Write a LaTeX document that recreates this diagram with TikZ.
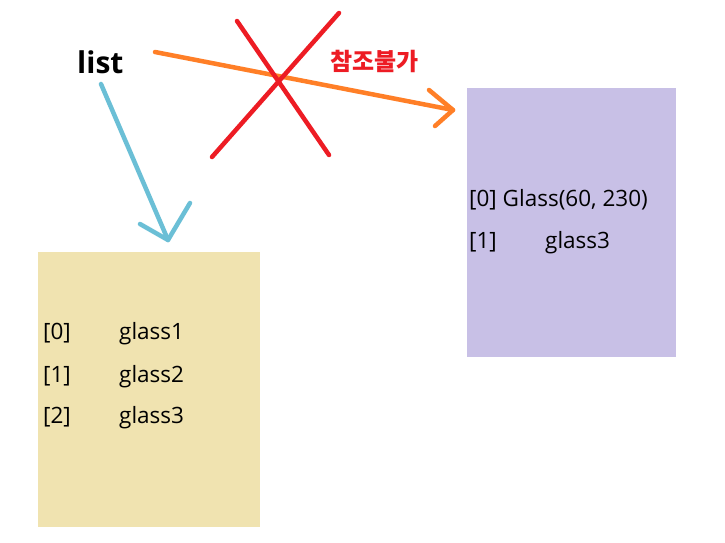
\documentclass[tikz,border=0pt]{standalone}
\usepackage{fontspec}
\setmainfont{Open Sans}
\newfontfamily\kr{Noto Sans CJK KR}
\definecolor{boxyellow}{HTML}{F0E3B0}
\definecolor{boxpurple}{HTML}{C8C0E6}
\definecolor{arrcyan}{HTML}{6BBFD6}
\definecolor{arrorange}{HTML}{FF7F27}
\definecolor{xred}{HTML}{ED1C24}
\begin{document}
\begin{tikzpicture}[x=1pt,y=-1pt,
  stroke/.style={line width=4.5pt,line cap=round,line join=round},
  cell/.style={anchor=base west,inner sep=0pt,font=\fontsize{22.5}{26}\selectfont},
  arrbox/.style={draw=none,inner sep=0pt,anchor=north west}]
\useasboundingbox (0,0) rectangle (725,542);
\fill[white] (0,0) rectangle (725,542);
% boxes
\node[arrbox,fill=boxyellow,minimum width=222pt,minimum height=275pt] (left) at (38,252) {};
\node[arrbox,fill=boxpurple,minimum width=209pt,minimum height=269pt] (right) at (467,88) {};
% label
\node[anchor=base west,inner sep=0pt,font=\fontsize{30}{34}\selectfont\bfseries] (list) at (77,73) {list};
\node[anchor=base west,inner sep=0pt,text=xred,font=\kr\bfseries\fontsize{24}{28}\selectfont] (nolabel) at (330,70) {참조불가};
% left box texts
\node[cell] (l0i) at (43,339) {[0]};
\node[cell] (l0v) at (119,339) {glass1};
\node[cell] (l1i) at (43,382) {[1]};
\node[cell] (l1v) at (119,382) {glass2};
\node[cell] (l2i) at (43,423) {[2]};
\node[cell] (l2v) at (119,423) {glass3};
% right box texts
\node[cell] (r0) at (469,206) {[0] Glass(60, 230)};
\node[cell] (r1i) at (469,248) {[1]};
\node[cell] (r1v) at (545,248) {glass3};
% cyan arrow
\coordinate (cs) at (101,84);
\coordinate (ce) at (168,240);
\coordinate (ch1) at (140,224);
\coordinate (ch2) at (190,203);
\draw[stroke,arrcyan] (cs) -- (ce);
\draw[stroke,arrcyan] (ch1) -- (ce) -- (ch2);
% orange arrow
\coordinate (os) at (155,52);
\coordinate (oe) at (453,110);
\coordinate (oh1) at (429,90);
\coordinate (oh2) at (435,126);
\draw[stroke,arrorange] (os) -- (oe);
\draw[stroke,arrorange] (oh1) -- (oe) -- (oh2);
% red cross
\coordinate (x1a) at (237,21);
\coordinate (x1b) at (329,155);
\coordinate (x2a) at (339,13);
\coordinate (x2b) at (212,157);
\draw[stroke,xred] (x1a) -- (x1b);
\draw[stroke,xred] (x2a) -- (x2b);
\end{tikzpicture}
\end{document}
